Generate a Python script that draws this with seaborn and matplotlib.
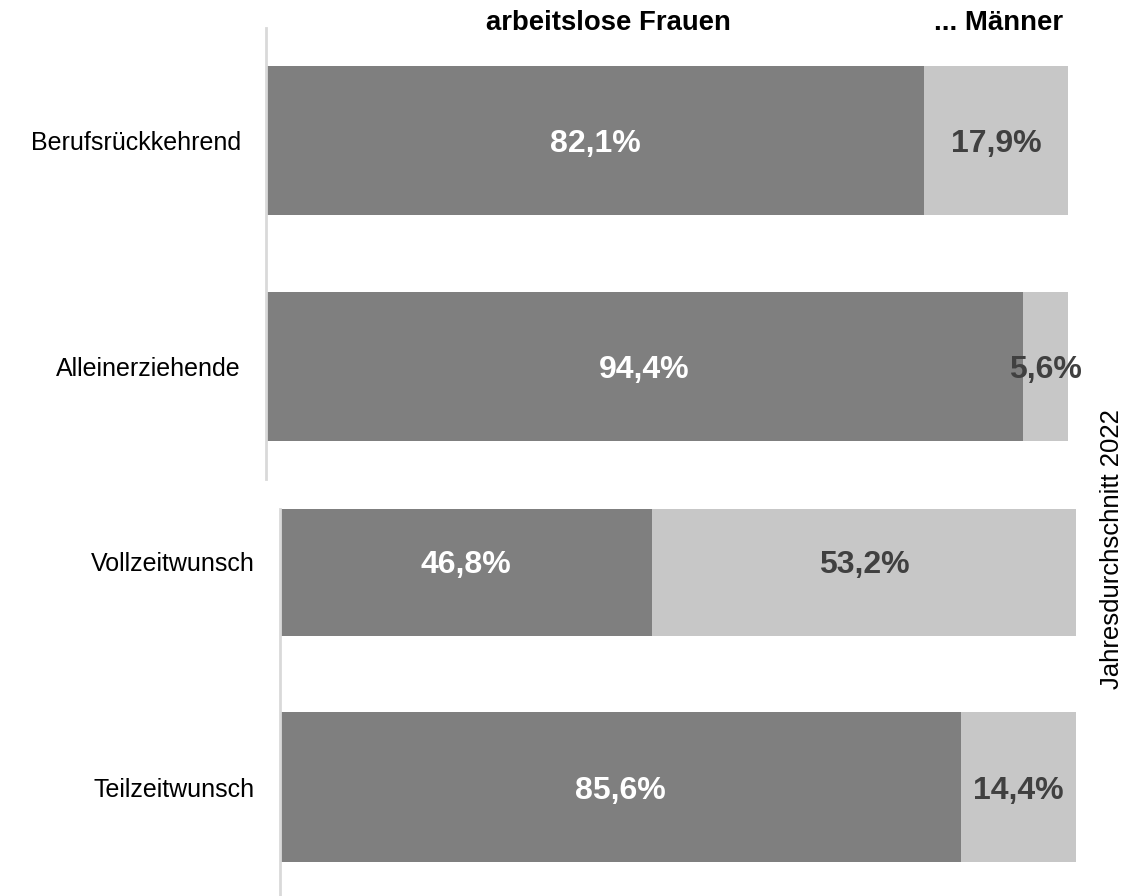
import matplotlib
matplotlib.use("Agg")
import matplotlib.pyplot as plt
import seaborn as sns
import pandas as pd

# Anteile arbeitsloser Frauen und Männer je Personengruppe (in %)
kategorien_oben = ["Berufsrückkehrend", "Alleinerziehende"]
frauen_oben = [82.1, 94.4]
maenner_oben = [17.9, 5.6]

kategorien_unten = ["Vollzeitwunsch", "Teilzeitwunsch"]
frauen_unten = [46.8, 85.6]
maenner_unten = [53.2, 14.4]

kopf_frauen = "arbeitslose Frauen"
kopf_maenner = "... Männer"
zeitraum = "Jahresdurchschnitt 2022"

DUNKEL = "#7f7f7f"
HELL = "#c7c7c7"
ACHSE = "#d9d9d9"

sns.set_theme(style="white")
plt.rcParams["font.family"] = ["Liberation Sans", "DejaVu Sans"]

fig = plt.figure(figsize=(11.38, 8.96), dpi=100)


def fmt(v):
    return f"{v:.1f}".replace(".", ",") + "%"


def panel(ax, kategorien, frauen, maenner, ylim):
    df = pd.DataFrame({
        "Gruppe": kategorien,
        "Frauen": frauen,
        "Gesamt": [f + m for f, m in zip(frauen, maenner)],
    })
    sns.barplot(data=df, y="Gruppe", x="Gesamt", color=HELL, orient="h",
                width=0.66, saturation=1, ax=ax, linewidth=0)
    sns.barplot(data=df, y="Gruppe", x="Frauen", color=DUNKEL, orient="h",
                width=0.66, saturation=1, ax=ax, linewidth=0)

    # Wertbeschriftungen mittig in den Segmenten (Grundlinie leicht unter der Balkenmitte)
    for i, (f, m) in enumerate(zip(frauen, maenner)):
        ax.text(f / 2, i + 0.051, fmt(f), ha="center", va="baseline",
                color="white", fontsize=23, fontweight="bold")
        ax.text(f + m / 2, i + 0.051, fmt(m), ha="center", va="baseline",
                color="#404040", fontsize=23, fontweight="bold")

    ax.set_xlim(0, 100)
    ax.set_ylim(*ylim)
    ax.set_xlabel("")
    ax.set_ylabel("")
    ax.set_xticks([])
    ax.tick_params(axis="y", length=0, pad=18, labelsize=18, labelcolor="black")
    for side in ("top", "right", "bottom"):
        ax.spines[side].set_visible(False)
    ax.spines["left"].set_color(ACHSE)
    ax.spines["left"].set_linewidth(2)


ax_oben = fig.add_axes([0.2337, 0.4654, 0.7047, 0.5033])
panel(ax_oben, kategorien_oben, frauen_oben, maenner_oben, (1.5, -0.5))

ax_unten = fig.add_axes([0.2460, 0.0, 0.6995, 0.4319])
panel(ax_unten, kategorien_unten, frauen_unten, maenner_unten, (1.482, -0.23))

fig.text(0.535, 0.9665, kopf_frauen, ha="center", va="baseline",
         fontsize=19.8, fontweight="bold", color="black")
fig.text(0.934, 0.9665, kopf_maenner, ha="right", va="baseline",
         fontsize=19.8, fontweight="bold", color="black")
fig.text(0.977, 0.387, zeitraum, ha="center", va="center", rotation=90,
         fontsize=18.5, color="black")

fig.savefig("out.png", dpi=100, facecolor="white")
